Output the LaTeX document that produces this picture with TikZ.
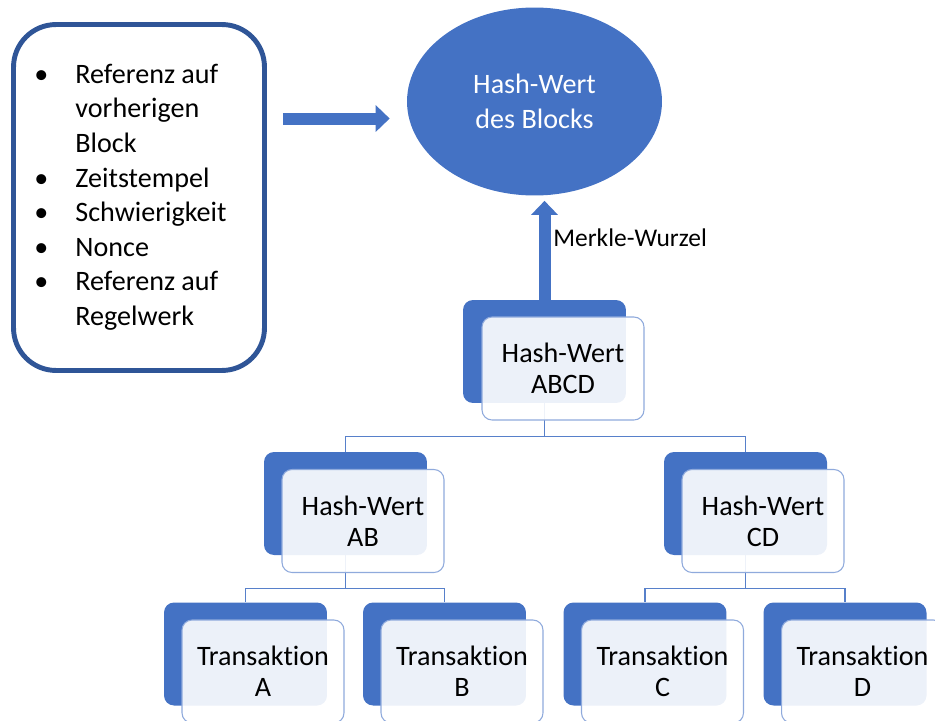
\documentclass[tikz,border=0pt]{standalone}
\usepackage{fontspec}
\setmainfont{Carlito}[Ligatures=NoCommon]
\usepackage{tikz}
\usetikzlibrary{positioning}
\usetikzlibrary{shapes.geometric}
\usetikzlibrary{arrows.meta}

\definecolor{blockblue}{HTML}{4472C4}
\definecolor{darkblue}{HTML}{2F5597}
\definecolor{paleblue}{HTML}{8FAADC}

\tikzset{
  infobox/.style={draw=darkblue, line width=2.8pt, rounded corners=0.85cm,
    minimum width=5.02cm, minimum height=6.92cm, inner sep=0pt,
    font=\fontsize{16}{19.7}\selectfont},
  hashoval/.style={ellipse, fill=blockblue, text=white, minimum width=5.1cm,
    minimum height=3.76cm, align=center, inner sep=0pt,
    font=\fontsize{16}{19.8}\selectfont},
  backbox/.style={fill=blockblue, rounded corners=0.2cm,
    minimum width=3.26cm, minimum height=2.06cm, inner sep=0pt},
  frontbox/.style={fill=white, fill opacity=0.9, text opacity=1, draw=paleblue,
    line width=0.6pt, rounded corners=0.2cm, minimum width=3.24cm,
    minimum height=2.06cm, inner sep=0pt, align=center,
    font=\fontsize{16}{17.6}\selectfont},
  link/.style={draw=blockblue!90, line width=0.65pt},
  fatarrow/.style={draw=blockblue, line width=0.24cm,
    -{Triangle[width=0.52cm,length=0.28cm]}},
}

\begin{document}
\begin{tikzpicture}[x=0.02cm, y=-0.02cm]
\useasboundingbox (0,0) rectangle (935,720);
\clip (0,0) rectangle (935,720);

% Blockkopf
\node[infobox] (info) at (139,197.5) {\begin{tabular}{@{}p{0.82cm}@{}l@{}}
\textbullet & Referenz auf\\
 & vorherigen\\
 & Block\\
\textbullet & Zeitstempel\\
\textbullet & Schwierigkeit\\
\textbullet & Nonce\\
\textbullet & Referenz auf\\
 & Regelwerk
\end{tabular}\kern0.34cm};
\node[hashoval] (blockhash) at (534.5,101.5) {Hash-Wert\\des Blocks};

% hintere Kacheln
\node[backbox] (abcdback) at (544.5,351.5) {};
\node[backbox] (abback) at (345.5,503.5) {};
\node[backbox] (cdback) at (745.5,503.5) {};
\node[backbox] (aback) at (245.5,654) {};
\node[backbox] (bback) at (444.5,654) {};
\node[backbox] (cback) at (645,654) {};
\node[backbox] (dback) at (845,654) {};

% Verbindungen
\draw[link] (abcdback.south) -- ++(0,33) -| (abback.north);
\draw[link] (abcdback.south) -- ++(0,33) -| (cdback.north);
\draw[link] (abback.south) -- ++(0,33) -| (aback.north);
\draw[link] (abback.south) -- ++(0,33) -| (bback.north);
\draw[link] (cdback.south) -- ++(0,33) -| (cback.north);
\draw[link] (cdback.south) -- ++(0,33) -| (dback.north);

% vordere Kacheln
\node[frontbox] (abcd) at ([xshift=0.37cm,yshift=-0.34cm]abcdback) {Hash-Wert\\ABCD};
\node[frontbox] (ab) at ([xshift=0.35cm,yshift=-0.35cm]abback) {Hash-Wert\\AB};
\node[frontbox] (cd) at ([xshift=0.35cm,yshift=-0.35cm]cdback) {Hash-Wert\\CD};
\node[frontbox] (a) at ([xshift=0.35cm,yshift=-0.35cm]aback) {Transaktion\\A};
\node[frontbox] (b) at ([xshift=0.35cm,yshift=-0.35cm]bback) {Transaktion\\B};
\node[frontbox] (c) at ([xshift=0.35cm,yshift=-0.35cm]cback) {Transaktion\\C};
\node[frontbox] (d) at ([xshift=0.35cm,yshift=-0.35cm]dback) {Transaktion\\D};

% Pfeile
\draw[fatarrow, shorten <=0.32cm, shorten >=0.34cm]
  ([yshift=1.58cm]info.east) -- ([yshift=1.58cm]info.east -| blockhash.west);
\draw[fatarrow, shorten >=0.1cm] (abcdback.north) -- (abcdback.north |- blockhash.south)
  node[right, pos=0.6, xshift=-0.06cm, font=\fontsize{14.5}{17}\selectfont] (merkle) {Merkle-Wurzel};
\end{tikzpicture}
\end{document}
